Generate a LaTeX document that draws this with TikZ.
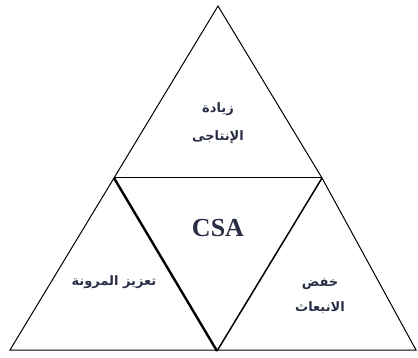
\documentclass[tikz,border=0pt]{standalone}
\usepackage{fontspec}
\setmainfont{Liberation Serif}
\newfontfamily\arabicfont[Script=Arabic]{DejaVu Sans}
\TeXXeTstate=1
\definecolor{txt}{HTML}{2A2F45}
\begin{document}
\begin{tikzpicture}[x=1pt,y=-1pt,
  edge/.style={line width=1pt,black,line join=miter},
  thick edge/.style={line width=2.4pt,black},
  artext/.style={font=\arabicfont\bfseries\fontsize{13}{15}\selectfont,text=txt,align=center,inner sep=0pt}]
\useasboundingbox (0,0) rectangle (418,358);
\coordinate (top) at (218,6);
\coordinate (ml) at (114,178);
\coordinate (mr) at (322,178);
\coordinate (bl) at (10,350);
\coordinate (bm) at (217,351);
\coordinate (br) at (416,350);
\draw[edge] (top) -- (ml) -- (bl) -- (br) -- (mr) -- cycle;
\draw[edge] (ml) -- (mr);
\draw[thick edge] (ml) -- (bm);
\draw[line width=1.5pt] (bm) -- (mr);
\node[artext] (t1) at (218,109) {\beginR زيادة\endR};
\node[artext] (t2) at (218,137) {\beginR الإنتاجى\endR};
\node[font=\bfseries\fontsize{26}{30}\selectfont,text=txt,inner sep=0pt] (csa) at (218,228) {CSA};
\node[artext] (l1) at (114,282) {\beginR تعزيز المرونة\endR};
\node[artext] (r1) at (320,284) {\beginR خفض\endR};
\node[artext] (r2) at (320,308) {\beginR الانبعاث\endR};
\end{tikzpicture}
\end{document}
